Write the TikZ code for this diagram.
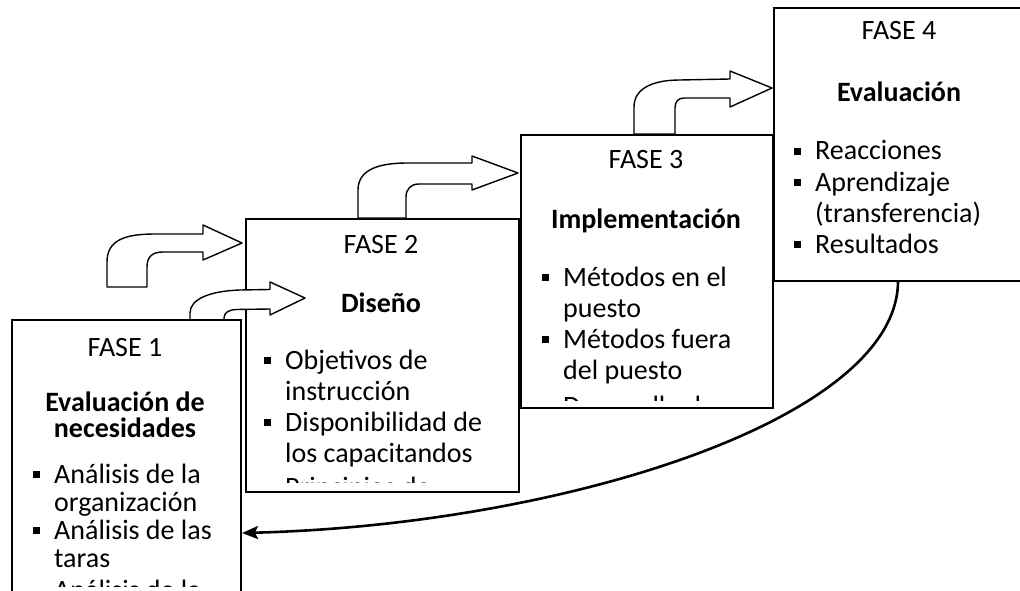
\documentclass[tikz,border=0pt]{standalone}
\usepackage{fontspec}
\setmainfont{Carlito}
\usetikzlibrary{arrows.meta}
\newcommand\bulmark{\llap{\rule[5pt]{7pt}{7pt}\hspace{14pt}}}
\begin{document}
\begin{tikzpicture}[x=1pt,y=-1pt,
  box/.style={draw=black, line width=2pt, fill=white, inner sep=0pt, anchor=north west},
  blockarrow/.style={draw=black, line width=1.4pt, fill=white, line join=round},
  fase/.style={inner sep=0pt, anchor=base, font=\fontsize{28}{31}\selectfont},
  ttl/.style={inner sep=0pt, anchor=base, font=\fontsize{28}{31}\selectfont\bfseries},
  ln/.style={inner sep=0pt, anchor=base west, font=\fontsize{28}{31}\selectfont},
  fb/.style={draw=black, line width=2.6pt, -{Stealth[length=16pt,width=13pt,inset=3pt]}}
]
\useasboundingbox (0,0) rectangle (1020,591);
\clip (0,0) rectangle (1020,591);

% ---------- Box 4 ----------
\node[box, minimum width=252pt, minimum height=273pt] (b4) at (773,7) {};
\node[fase] (b4f) at (899,40) {FASE 4};
\node[ttl] (b4t) at (899,102) {Evaluación};
\node[ln] (b4a) at (815,160) {\bulmark Reacciones};
\node[ln] (b4b) at (815,191) {\bulmark Aprendizaje};
\node[ln] (b4c) at (815,222) {(transferencia)};
\node[ln] (b4d) at (815,253) {\bulmark Resultados};

% ---------- Box 3 ----------
\node[box, minimum width=252pt, minimum height=273pt] (b3) at (520,134) {};
\begin{scope}
\clip (520,134) rectangle (772,400);
\node[fase] (b3f) at (646,168) {FASE 3};
\node[ttl] (b3t) at (646,228) {Implementación};
\node[ln] (b3a) at (563,286) {\bulmark Métodos en el};
\node[ln] (b3b) at (563,317) {puesto};
\node[ln] (b3c) at (563,348) {\bulmark Métodos fuera};
\node[ln] (b3d) at (563,379) {del puesto};
\node[ln] (b3e) at (563,415) {\bulmark Desarrollo de};
\end{scope}

% ---------- Box 2 ----------
\node[box, minimum width=273pt, minimum height=273pt] (b2) at (245,218) {};
\begin{scope}
\clip (245,218) rectangle (518,482);
\node[fase] (b2f) at (381,253) {FASE 2};
\node[ttl] (b2t) at (381,312) {Diseño};
\node[ln] (b2a) at (285,369) {\bulmark Objetivos de};
\node[ln] (b2b) at (285,400) {instrucción};
\node[ln] (b2c) at (285,431) {\bulmark Disponibilidad de};
\node[ln] (b2d) at (285,462) {los capacitandos};
\node[ln] (b2e) at (285,496) {\bulmark Principios de};
\end{scope}

% ---------- Bent block arrows ----------
% A (free standing, left of box 2)
\path[blockarrow] (107,287) -- (107,262) .. controls (107,240) and (125,234) .. (155,234)
  -- (203,234) -- (203,225) -- (242,243) -- (203,260) -- (203,252) -- (163,252)
  .. controls (152,252) and (147,257) .. (147,267) -- (147,287) -- cycle;
% C (box 2 -> box 3)
\path[blockarrow] (358,218) -- (358,190) .. controls (358,170) and (378,163) .. (407,163)
  -- (472,163) -- (472,156) -- (518,173) -- (472,190) -- (472,184) -- (419,184)
  .. controls (411,184) and (406,189) .. (406,197) -- (406,218) -- cycle;
% D (box 3 -> box 4)
\path[blockarrow] (634,134) -- (634,107) .. controls (634,90) and (650,80) .. (680,80)
  -- (730,79) -- (730,71) -- (772,88) -- (730,107) -- (730,98) -- (684,98)
  .. controls (678,98) and (675,102) .. (675,108) -- (675,134) -- cycle;
% B (from box 1 into box 2)
\path[blockarrow] (190,320) -- (190,313) .. controls (190,299) and (210,291) .. (240,290)
  -- (270,289.5) -- (270,282) -- (305,298) -- (270,315) -- (270,309) -- (236,309.5)
  .. controls (228,310) and (224,313) .. (224,318) -- (224,320) -- cycle;

% ---------- Box 1 ----------
\node[box, minimum width=229pt, minimum height=290pt] (b1) at (11,319) {};
\begin{scope}
\clip (11,319) rectangle (240,586);
\node[fase] (b1f) at (125,356) {FASE 1};
\node[ttl] (b1t1) at (125,411) {Evaluación de};
\node[ttl] (b1t2) at (125,437) {necesidades};
\node[ln] (b1a) at (54,483) {\bulmark Análisis de la};
\node[ln] (b1b) at (54,511) {organización};
\node[ln] (b1c) at (54,539) {\bulmark Análisis de las};
\node[ln] (b1d) at (54,567) {taras};
\node[ln] (b1e) at (54,599) {\bulmark Análisis de la};
\end{scope}

% ---------- Feedback arrow ----------
\coordinate (fbS) at (898,281);
\coordinate (fbE) at (242,533);
\draw[fb] (fbS) .. controls (898,420) and (560,525) .. (fbE);
\end{tikzpicture}
\end{document}
